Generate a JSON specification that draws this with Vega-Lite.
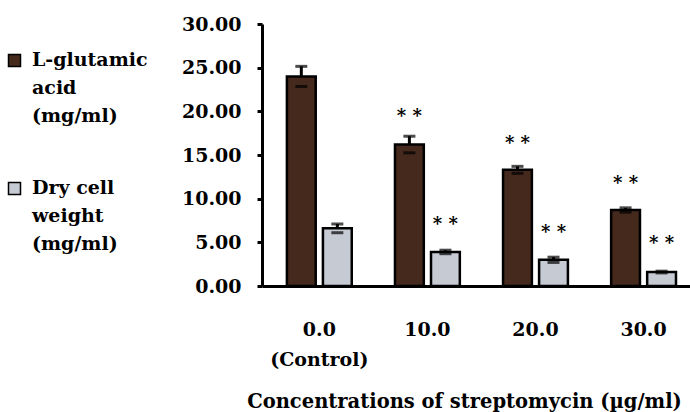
{
  "$schema": "https://vega.github.io/schema/vega-lite/v6.json",
  "width": 428,
  "height": 262,
  "autosize": {"type": "none"},
  "padding": {"left": 262, "top": 24, "right": 0, "bottom": 126},
  "background": "white",
  "config": {
    "view": {"stroke": null},
    "font": "DejaVu Serif"
  },
  "data": {
    "values": [
      {"conc": "0.0", "series": "L-glutamic acid (mg/ml)", "value": 24.0, "err": 1.15, "sig": "", "starY": null},
      {"conc": "0.0", "series": "Dry cell weight (mg/ml)", "value": 6.6, "err": 0.5, "sig": "", "starY": null},
      {"conc": "10.0", "series": "L-glutamic acid (mg/ml)", "value": 16.2, "err": 0.95, "sig": "* *", "starY": 19.4},
      {"conc": "10.0", "series": "Dry cell weight (mg/ml)", "value": 3.9, "err": 0.2, "sig": "* *", "starY": 7.0},
      {"conc": "20.0", "series": "L-glutamic acid (mg/ml)", "value": 13.3, "err": 0.4, "sig": "* *", "starY": 16.3},
      {"conc": "20.0", "series": "Dry cell weight (mg/ml)", "value": 3.0, "err": 0.3, "sig": "* *", "starY": 6.1},
      {"conc": "30.0", "series": "L-glutamic acid (mg/ml)", "value": 8.7, "err": 0.25, "sig": "* *", "starY": 11.7},
      {"conc": "30.0", "series": "Dry cell weight (mg/ml)", "value": 1.6, "err": 0.1, "sig": "* *", "starY": 4.8}
    ]
  },
  "encoding": {
    "x": {
      "field": "conc",
      "type": "nominal",
      "sort": null,
      "scale": {"paddingInner": 0.4, "paddingOuter": 0.18, "align": 0.64},
      "axis": {
        "title": "Concentrations of streptomycin (µg/ml)",
        "titleFont": "DejaVu Serif",
        "titleFontSize": 19.5,
        "titleFontWeight": "bold",
        "titleColor": "black",
        "titleX": 202,
        "titleY": 121,
        "titleAlign": "center",
        "titleBaseline": "alphabetic",
        "labelAngle": 0,
        "labelFont": "DejaVu Serif",
        "labelFontSize": 19,
        "labelFontWeight": "bold",
        "labelColor": "black",
        "labelBaseline": "top",
        "labelPadding": 34,
        "labelLineHeight": 30,
        "labelExpr": "datum.value == '0.0' ? ['0.0', '(Control)'] : datum.value",
        "ticks": false,
        "tickSize": 0,
        "domainColor": "black",
        "domainWidth": 3
      }
    },
    "xOffset": {
      "field": "series",
      "type": "nominal",
      "sort": ["L-glutamic acid (mg/ml)", "Dry cell weight (mg/ml)"],
      "scale": {"paddingInner": 0.2}
    }
  },
  "layer": [
    {
      "mark": {"type": "bar", "stroke": "black", "strokeWidth": 2.5},
      "encoding": {
        "y": {
          "field": "value",
          "type": "quantitative",
          "scale": {"domain": [0, 30], "nice": false},
          "axis": {
            "title": null,
            "values": [0, 5, 10, 15, 20, 25, 30],
            "format": ".2f",
            "grid": false,
            "labelFont": "DejaVu Serif",
            "labelFontSize": 19,
            "labelFontWeight": "bold",
            "labelColor": "black",
            "labelPadding": 16,
            "tickSize": 5,
            "tickWidth": 3,
            "tickColor": "black",
            "domainColor": "black",
            "domainWidth": 3
          }
        },
        "color": {
          "field": "series",
          "type": "nominal",
          "sort": ["L-glutamic acid (mg/ml)", "Dry cell weight (mg/ml)"],
          "scale": {"range": ["#45291d", "#c6cad3"]},
          "legend": {
            "title": null,
            "orient": "none",
            "legendX": -257,
            "legendY": 27,
            "symbolType": "square",
            "symbolSize": 144,
            "symbolStrokeColor": "black",
            "symbolStrokeWidth": 1.5,
            "symbolOpacity": 1,
            "labelFont": "DejaVu Serif",
            "labelFontSize": 19,
            "labelFontWeight": "bold",
            "labelColor": "black",
            "labelBaseline": "top",
            "labelOffset": 8,
            "labelLimit": 300,
            "rowPadding": 52,
            "labelExpr": "datum.label == 'L-glutamic acid (mg/ml)' ? ['L-glutamic', 'acid', '(mg/ml)'] : ['Dry cell', 'weight', '(mg/ml)']",
            "encode": {"labels": {"update": {"lineHeight": {"value": 28}, "dy": {"value": -10}}}}
          }
        }
      }
    },
    {
      "mark": {"type": "rule", "color": "black", "strokeWidth": 3},
      "encoding": {
        "y": {"field": "value", "type": "quantitative"},
        "y2": {"field": "err_hi"}
      },
      "transform": [{"calculate": "datum.value + datum.err", "as": "err_hi"}]
    },
    {
      "mark": {"type": "tick", "color": "black", "thickness": 3, "size": 12},
      "encoding": {
        "y": {"field": "err_hi", "type": "quantitative"}
      },
      "transform": [{"calculate": "datum.value + datum.err", "as": "err_hi"}]
    },
    {
      "mark": {"type": "tick", "color": "black", "thickness": 3, "size": 12},
      "encoding": {
        "y": {"field": "err_lo", "type": "quantitative"}
      },
      "transform": [{"calculate": "datum.value - datum.err", "as": "err_lo"}]
    },
    {
      "transform": [{"filter": "datum.sig != ''"}],
      "mark": {"type": "text", "font": "DejaVu Serif", "fontWeight": "bold", "fontSize": 18, "baseline": "middle", "color": "black"},
      "encoding": {
        "y": {"field": "starY", "type": "quantitative"},
        "text": {"field": "sig"}
      }
    }
  ]
}
